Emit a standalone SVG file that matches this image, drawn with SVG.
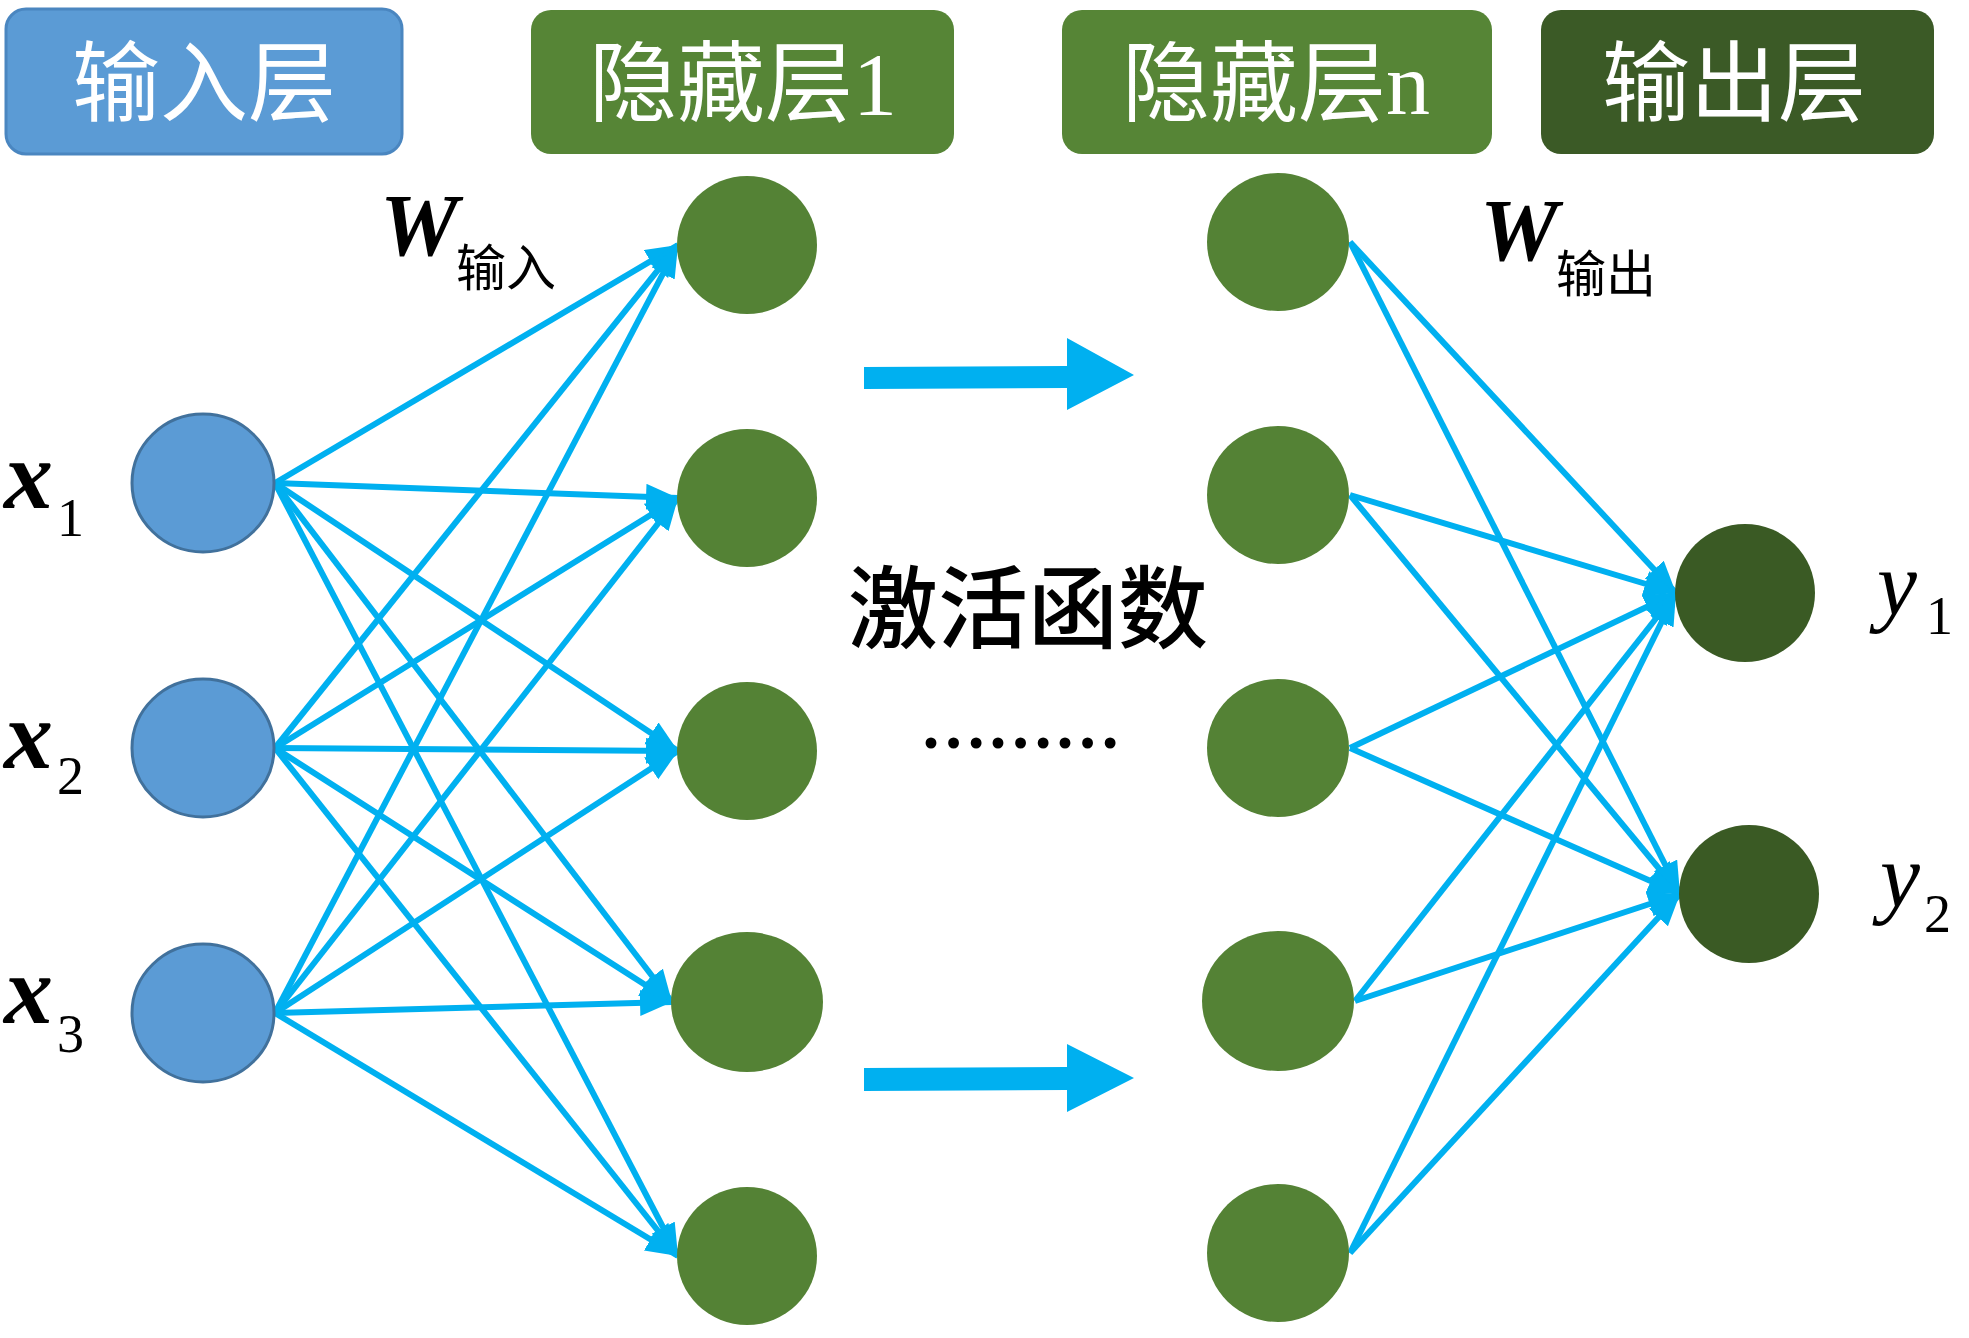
<svg xmlns="http://www.w3.org/2000/svg" width="1969" height="1338" viewBox="0 0 1969 1338">
<defs>
<style>
.hdr{font-family:"Liberation Serif","Noto Sans CJK SC",serif;font-size:88px;fill:#ffffff;text-anchor:middle}
.blue{fill:#5b9bd5;stroke:#41719c;stroke-width:3}
.green{fill:#548235}
.dark{fill:#3a5a24}
.conn line{stroke:#00b0f0;stroke-width:6;fill:none}
.math{font-family:"Liberation Serif",serif;fill:#000}
.cjk{font-family:"Liberation Serif","Noto Sans CJK SC",serif;fill:#000}
</style>
<marker id="ah" markerUnits="userSpaceOnUse" markerWidth="34" markerHeight="28" refX="32" refY="13" orient="auto">
<path d="M0,0 L32,13 L0,26 z" fill="#00b0f0"/>
</marker>
</defs>
<rect width="1969" height="1338" fill="#ffffff"/>

<g id="hdr-input"><rect x="6" y="9" width="396" height="145" rx="20" fill="#5b9bd5" stroke="#4a86c0" stroke-width="3"/><text class="hdr" x="204" y="114">输入层</text></g>
<g id="hdr-hidden1"><rect x="531" y="10" width="423" height="144" rx="20" fill="#568536"/><text class="hdr" x="743" y="114">隐藏层1</text></g>
<g id="hdr-hiddenn"><rect x="1062" y="10" width="430" height="144" rx="20" fill="#568536"/><text class="hdr" x="1276" y="114">隐藏层n</text></g>
<g id="hdr-output"><rect x="1541" y="10" width="393" height="144" rx="20" fill="#3b5a26"/><text class="hdr" x="1734" y="114">输出层</text></g>

<g id="connectors" class="conn">
<line x1="275" y1="483" x2="678" y2="245" marker-end="url(#ah)"/>
<line x1="275" y1="483" x2="678" y2="498" marker-end="url(#ah)"/>
<line x1="275" y1="483" x2="678" y2="751" marker-end="url(#ah)"/>
<line x1="275" y1="483" x2="672" y2="1002" marker-end="url(#ah)"/>
<line x1="275" y1="483" x2="678" y2="1256" marker-end="url(#ah)"/>
<line x1="275" y1="748" x2="678" y2="245" marker-end="url(#ah)"/>
<line x1="275" y1="748" x2="678" y2="498" marker-end="url(#ah)"/>
<line x1="275" y1="748" x2="678" y2="751" marker-end="url(#ah)"/>
<line x1="275" y1="748" x2="672" y2="1002" marker-end="url(#ah)"/>
<line x1="275" y1="748" x2="678" y2="1256" marker-end="url(#ah)"/>
<line x1="275" y1="1013" x2="678" y2="245" marker-end="url(#ah)"/>
<line x1="275" y1="1013" x2="678" y2="498" marker-end="url(#ah)"/>
<line x1="275" y1="1013" x2="678" y2="751" marker-end="url(#ah)"/>
<line x1="275" y1="1013" x2="672" y2="1002" marker-end="url(#ah)"/>
<line x1="275" y1="1013" x2="678" y2="1256" marker-end="url(#ah)"/>

<line x1="1350" y1="242" x2="1676" y2="593" marker-end="url(#ah)"/>
<line x1="1350" y1="242" x2="1680" y2="894" marker-end="url(#ah)"/>
<line x1="1350" y1="495" x2="1676" y2="593" marker-end="url(#ah)"/>
<line x1="1350" y1="495" x2="1680" y2="894" marker-end="url(#ah)"/>
<line x1="1350" y1="748" x2="1676" y2="593" marker-end="url(#ah)"/>
<line x1="1350" y1="748" x2="1680" y2="894" marker-end="url(#ah)"/>
<line x1="1355" y1="1001" x2="1676" y2="593" marker-end="url(#ah)"/>
<line x1="1355" y1="1001" x2="1680" y2="894" marker-end="url(#ah)"/>
<line x1="1350" y1="1253" x2="1676" y2="593" marker-end="url(#ah)"/>
<line x1="1350" y1="1253" x2="1680" y2="894" marker-end="url(#ah)"/>
<path d="M864,367 L1067,366 L1067,338 L1134,375 L1067,410 L1067,388 L864,389 z" fill="#00b0f0" stroke="none"/>
<path d="M864,1068 L1067,1067 L1067,1044 L1134,1078 L1067,1112 L1067,1090 L864,1091 z" fill="#00b0f0" stroke="none"/>
</g>

<g id="in1"><ellipse class="blue" cx="203" cy="483" rx="71" ry="69"/></g>
<g id="in2"><ellipse class="blue" cx="203" cy="748" rx="71" ry="69"/></g>
<g id="in3"><ellipse class="blue" cx="203" cy="1013" rx="71" ry="69"/></g>

<g id="h1-1"><ellipse class="green" cx="747" cy="245" rx="70" ry="69"/></g>
<g id="h1-2"><ellipse class="green" cx="747" cy="498" rx="70" ry="69"/></g>
<g id="h1-3"><ellipse class="green" cx="747" cy="751" rx="70" ry="69"/></g>
<g id="h1-4"><ellipse class="green" cx="747" cy="1002" rx="76" ry="70"/></g>
<g id="h1-5"><ellipse class="green" cx="747" cy="1256" rx="70" ry="69"/></g>

<g id="hn-1"><ellipse class="green" cx="1278" cy="242" rx="71" ry="69"/></g>
<g id="hn-2"><ellipse class="green" cx="1278" cy="495" rx="71" ry="69"/></g>
<g id="hn-3"><ellipse class="green" cx="1278" cy="748" rx="71" ry="69"/></g>
<g id="hn-4"><ellipse class="green" cx="1278" cy="1001" rx="76" ry="70"/></g>
<g id="hn-5"><ellipse class="green" cx="1278" cy="1253" rx="71" ry="69"/></g>

<g id="out1"><ellipse class="dark" cx="1745" cy="593" rx="70" ry="69"/></g>
<g id="out2"><ellipse class="dark" cx="1749" cy="894" rx="70" ry="69"/></g>

<text class="math" x="4" y="508" font-size="98" font-style="italic" font-weight="bold">x</text>
<text class="math" x="57" y="536" font-size="54">1</text>
<text class="math" x="4" y="768" font-size="98" font-style="italic" font-weight="bold">x</text>
<text class="math" x="57" y="794" font-size="54">2</text>
<text class="math" x="4" y="1023" font-size="98" font-style="italic" font-weight="bold">x</text>
<text class="math" x="57" y="1052" font-size="54">3</text>

<text class="math" x="380" y="255" font-size="88" font-style="italic" font-weight="bold">W</text>
<text class="cjk" x="456" y="286" font-size="50">输入</text>
<text class="math" x="1480" y="260" font-size="88" font-style="italic" font-weight="bold">W</text>
<text class="cjk" x="1556" y="292" font-size="50">输出</text>

<text class="math" x="1877" y="615" font-size="90" font-style="italic">y</text>
<text class="math" x="1926" y="634" font-size="54">1</text>
<text class="math" x="1880" y="907" font-size="90" font-style="italic">y</text>
<text class="math" x="1924" y="932" font-size="54">2</text>

<text class="cjk" x="1028" y="641" font-size="90" font-weight="500" text-anchor="middle">激活函数</text>
<text class="math" x="920" y="748" font-size="67" font-weight="bold">………</text>
</svg>
